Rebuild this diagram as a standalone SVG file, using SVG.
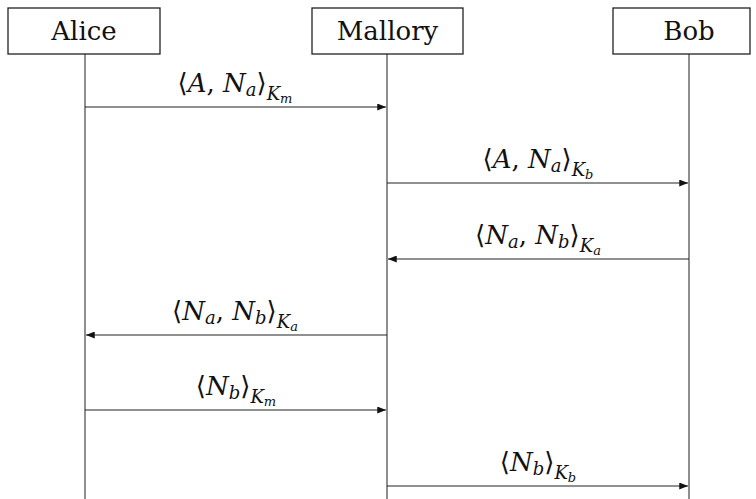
<svg xmlns="http://www.w3.org/2000/svg" width="756" height="499" viewBox="0 0 756 499">
<style>
.box{fill:#fff;stroke:#222;stroke-width:1.3}
.life{stroke:#444;stroke-width:1.2}
.msg{stroke:#222;stroke-width:1.2;fill:none}
text{font-family:'DejaVu Serif',serif;fill:#111;text-anchor:middle}
.nm{font-size:26px}
.m{font-size:26px}
.i{font-style:italic}
.s{font-size:18px;font-style:italic}
.ss{font-size:13px;font-style:italic}
</style>
<defs>
<marker id="ah" viewBox="0 0 10 8" refX="10" refY="4" markerWidth="9" markerHeight="7" markerUnits="userSpaceOnUse" orient="auto">
<path d="M0,0 L10,4 L0,8 z" fill="#111"/>
</marker>
</defs>
<g id="lifelines">
<line class="life" x1="85" y1="54" x2="85" y2="499"/>
<line class="life" x1="387" y1="54" x2="387" y2="499"/>
<line class="life" x1="689" y1="54" x2="689" y2="499"/>
</g>
<g id="alice"><rect class="box" x="8" y="8" width="152" height="46"/><text class="nm" x="84" y="40">Alice</text></g>
<g id="mallory"><rect class="box" x="312" y="8" width="151" height="46"/><text class="nm" x="387.5" y="40">Mallory</text></g>
<g id="bob"><rect class="box" x="613" y="8" width="137" height="46"/><text class="nm" x="689" y="40">Bob</text></g>
<g id="connectors">
<line class="msg" x1="85" y1="107" x2="386" y2="107" marker-end="url(#ah)"/>
<line class="msg" x1="387" y1="183" x2="688" y2="183" marker-end="url(#ah)"/>
<line class="msg" x1="689" y1="259" x2="388" y2="259" marker-end="url(#ah)"/>
<line class="msg" x1="387" y1="335" x2="86" y2="335" marker-end="url(#ah)"/>
<line class="msg" x1="85" y1="410" x2="386" y2="410" marker-end="url(#ah)"/>
<line class="msg" x1="387" y1="486" x2="688" y2="486" marker-end="url(#ah)"/>
</g>
<g id="labels">
<text class="m" x="235" y="92">⟨<tspan class="i">A</tspan>, <tspan class="i">N</tspan><tspan class="s" dy="4">a</tspan><tspan dy="-4">⟩</tspan><tspan class="s" dy="8">K</tspan><tspan class="ss" dy="3">m</tspan></text>
<text class="m" x="538" y="168">⟨<tspan class="i">A</tspan>, <tspan class="i">N</tspan><tspan class="s" dy="4">a</tspan><tspan dy="-4">⟩</tspan><tspan class="s" dy="8">K</tspan><tspan class="ss" dy="3">b</tspan></text>
<text class="m" x="538" y="244">⟨<tspan class="i">N</tspan><tspan class="s" dy="4">a</tspan><tspan dy="-4">, </tspan><tspan class="i">N</tspan><tspan class="s" dy="4">b</tspan><tspan dy="-4">⟩</tspan><tspan class="s" dy="8">K</tspan><tspan class="ss" dy="3">a</tspan></text>
<text class="m" x="235" y="320">⟨<tspan class="i">N</tspan><tspan class="s" dy="4">a</tspan><tspan dy="-4">, </tspan><tspan class="i">N</tspan><tspan class="s" dy="4">b</tspan><tspan dy="-4">⟩</tspan><tspan class="s" dy="8">K</tspan><tspan class="ss" dy="3">a</tspan></text>
<text class="m" x="236" y="395">⟨<tspan class="i">N</tspan><tspan class="s" dy="4">b</tspan><tspan dy="-4">⟩</tspan><tspan class="s" dy="8">K</tspan><tspan class="ss" dy="3">m</tspan></text>
<text class="m" x="538" y="471">⟨<tspan class="i">N</tspan><tspan class="s" dy="4">b</tspan><tspan dy="-4">⟩</tspan><tspan class="s" dy="8">K</tspan><tspan class="ss" dy="3">b</tspan></text>
</g>
</svg>
